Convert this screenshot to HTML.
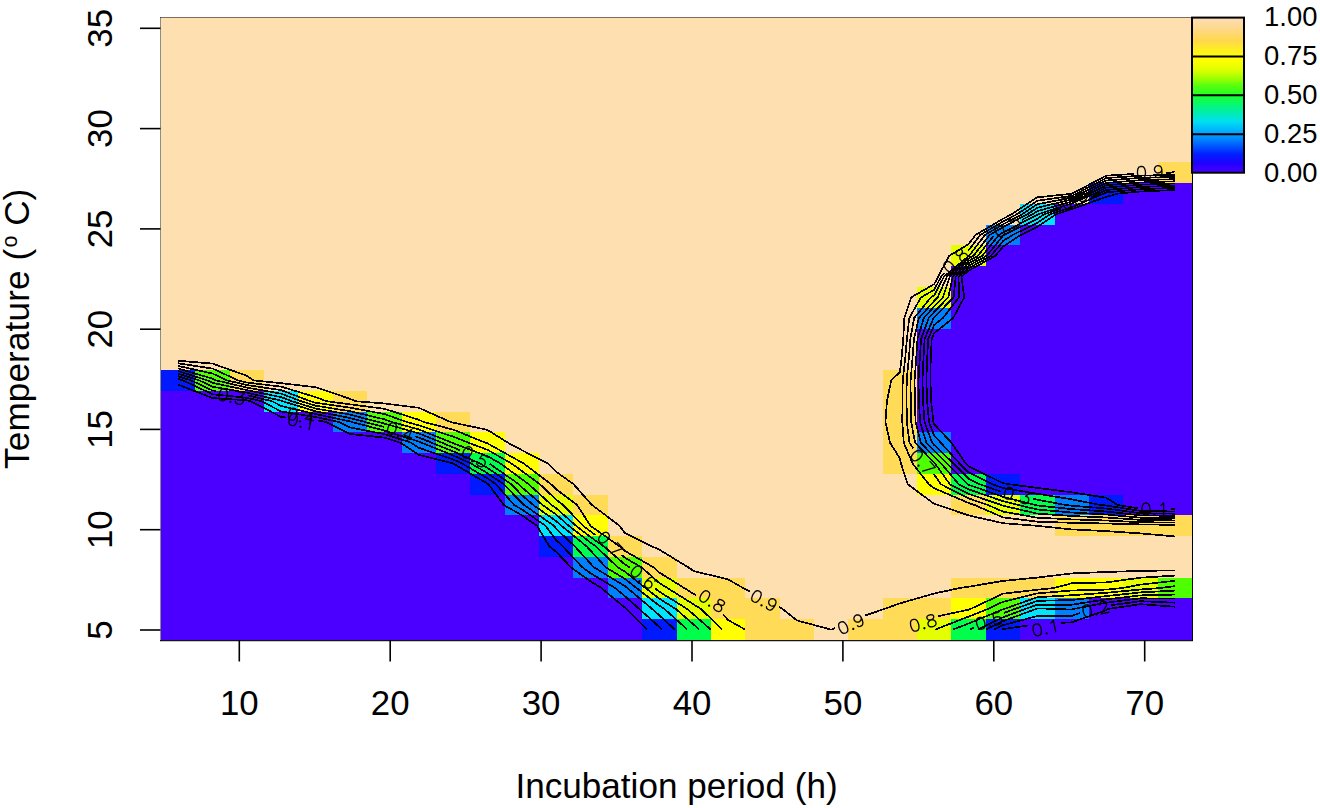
<!DOCTYPE html>
<html><head><meta charset="utf-8"><style>
html,body{margin:0;padding:0;background:#fff;width:1320px;height:808px;overflow:hidden}
svg{display:block}
text{font-family:"Liberation Sans",sans-serif;fill:#000}
</style></head><body>
<svg width="1320" height="808" viewBox="0 0 1320 808">
<defs>
<linearGradient id="lg" x1="0" y1="1" x2="0" y2="0">
<stop offset="0.0" stop-color="#4b00ff"/>
<stop offset="0.06" stop-color="#2000ff"/>
<stop offset="0.12" stop-color="#0020ff"/>
<stop offset="0.21" stop-color="#0080ff"/>
<stop offset="0.27" stop-color="#00b0ff"/>
<stop offset="0.33" stop-color="#00e0f0"/>
<stop offset="0.4" stop-color="#00f0a0"/>
<stop offset="0.48" stop-color="#10ff40"/>
<stop offset="0.515" stop-color="#30ff20"/>
<stop offset="0.555" stop-color="#50ff10"/>
<stop offset="0.61" stop-color="#a0ff00"/>
<stop offset="0.664" stop-color="#e0ff00"/>
<stop offset="0.725" stop-color="#ffff00"/>
<stop offset="0.79" stop-color="#fff020"/>
<stop offset="0.847" stop-color="#ffd84a"/>
<stop offset="0.915" stop-color="#ffd880"/>
<stop offset="0.983" stop-color="#fddbb0"/>
<stop offset="1.0" stop-color="#fddfb1"/>
</linearGradient>
</defs>
<rect x="161" y="17" width="1031" height="623" fill="#fddfb0"/>
<g shape-rendering="crispEdges">
<rect x="161.00" y="619.23" width="481.13" height="20.77" fill="#4b00ff"/>
<rect x="642.13" y="619.23" width="34.37" height="20.77" fill="#0019ff"/>
<rect x="676.50" y="619.23" width="34.37" height="20.77" fill="#00ff4d"/>
<rect x="710.87" y="619.23" width="34.37" height="20.77" fill="#ffff00"/>
<rect x="745.23" y="619.23" width="68.73" height="20.77" fill="#ffdb58"/>
<rect x="848.33" y="619.23" width="68.73" height="20.77" fill="#ffdb58"/>
<rect x="917.07" y="619.23" width="34.37" height="20.77" fill="#e5ff00"/>
<rect x="951.43" y="619.23" width="34.37" height="20.77" fill="#00ff4d"/>
<rect x="985.80" y="619.23" width="34.37" height="20.77" fill="#0019ff"/>
<rect x="1020.17" y="619.23" width="171.83" height="20.77" fill="#4b00ff"/>
<rect x="161.00" y="598.47" width="481.13" height="20.77" fill="#4b00ff"/>
<rect x="642.13" y="598.47" width="34.37" height="20.77" fill="#00e5ff"/>
<rect x="676.50" y="598.47" width="34.37" height="20.77" fill="#e5ff00"/>
<rect x="710.87" y="598.47" width="68.73" height="20.77" fill="#ffdb58"/>
<rect x="882.70" y="598.47" width="68.73" height="20.77" fill="#ffdb58"/>
<rect x="951.43" y="598.47" width="34.37" height="20.77" fill="#ffff00"/>
<rect x="985.80" y="598.47" width="34.37" height="20.77" fill="#4dff00"/>
<rect x="1020.17" y="598.47" width="34.37" height="20.77" fill="#00e5ff"/>
<rect x="1054.53" y="598.47" width="34.37" height="20.77" fill="#0080ff"/>
<rect x="1088.90" y="598.47" width="103.10" height="20.77" fill="#4b00ff"/>
<rect x="161.00" y="577.70" width="446.77" height="20.77" fill="#4b00ff"/>
<rect x="607.77" y="577.70" width="34.37" height="20.77" fill="#0080ff"/>
<rect x="642.13" y="577.70" width="34.37" height="20.77" fill="#e5ff00"/>
<rect x="676.50" y="577.70" width="68.73" height="20.77" fill="#ffdb58"/>
<rect x="951.43" y="577.70" width="103.10" height="20.77" fill="#ffdb58"/>
<rect x="1054.53" y="577.70" width="68.73" height="20.77" fill="#ffff00"/>
<rect x="1123.27" y="577.70" width="34.37" height="20.77" fill="#e5ff00"/>
<rect x="1157.63" y="577.70" width="34.37" height="20.77" fill="#4dff00"/>
<rect x="161.00" y="556.93" width="412.40" height="20.77" fill="#4b00ff"/>
<rect x="573.40" y="556.93" width="34.37" height="20.77" fill="#0080ff"/>
<rect x="607.77" y="556.93" width="34.37" height="20.77" fill="#4dff00"/>
<rect x="642.13" y="556.93" width="34.37" height="20.77" fill="#ffdb58"/>
<rect x="161.00" y="536.17" width="378.03" height="20.77" fill="#4b00ff"/>
<rect x="539.03" y="536.17" width="34.37" height="20.77" fill="#0019ff"/>
<rect x="573.40" y="536.17" width="34.37" height="20.77" fill="#00ff4d"/>
<rect x="607.77" y="536.17" width="34.37" height="20.77" fill="#ffdb58"/>
<rect x="161.00" y="515.40" width="378.03" height="20.77" fill="#4b00ff"/>
<rect x="539.03" y="515.40" width="34.37" height="20.77" fill="#00e5ff"/>
<rect x="573.40" y="515.40" width="34.37" height="20.77" fill="#ffff00"/>
<rect x="1054.53" y="515.40" width="137.47" height="20.77" fill="#ffdb58"/>
<rect x="161.00" y="494.63" width="343.67" height="20.77" fill="#4b00ff"/>
<rect x="504.67" y="494.63" width="34.37" height="20.77" fill="#0080ff"/>
<rect x="539.03" y="494.63" width="34.37" height="20.77" fill="#e5ff00"/>
<rect x="573.40" y="494.63" width="34.37" height="20.77" fill="#ffdb58"/>
<rect x="951.43" y="494.63" width="34.37" height="20.77" fill="#ffdb58"/>
<rect x="985.80" y="494.63" width="34.37" height="20.77" fill="#e5ff00"/>
<rect x="1020.17" y="494.63" width="34.37" height="20.77" fill="#00ff4d"/>
<rect x="1054.53" y="494.63" width="34.37" height="20.77" fill="#0080ff"/>
<rect x="1088.90" y="494.63" width="34.37" height="20.77" fill="#0019ff"/>
<rect x="1123.27" y="494.63" width="68.73" height="20.77" fill="#4b00ff"/>
<rect x="161.00" y="473.87" width="309.30" height="20.77" fill="#4b00ff"/>
<rect x="470.30" y="473.87" width="34.37" height="20.77" fill="#0019ff"/>
<rect x="504.67" y="473.87" width="34.37" height="20.77" fill="#4dff00"/>
<rect x="539.03" y="473.87" width="34.37" height="20.77" fill="#ffdb58"/>
<rect x="917.07" y="473.87" width="34.37" height="20.77" fill="#ffff00"/>
<rect x="951.43" y="473.87" width="34.37" height="20.77" fill="#00ff4d"/>
<rect x="985.80" y="473.87" width="34.37" height="20.77" fill="#0019ff"/>
<rect x="1020.17" y="473.87" width="171.83" height="20.77" fill="#4b00ff"/>
<rect x="161.00" y="453.10" width="274.93" height="20.77" fill="#4b00ff"/>
<rect x="435.93" y="453.10" width="34.37" height="20.77" fill="#0019ff"/>
<rect x="470.30" y="453.10" width="34.37" height="20.77" fill="#00ff4d"/>
<rect x="504.67" y="453.10" width="34.37" height="20.77" fill="#ffff00"/>
<rect x="882.70" y="453.10" width="34.37" height="20.77" fill="#ffdb58"/>
<rect x="917.07" y="453.10" width="34.37" height="20.77" fill="#4dff00"/>
<rect x="951.43" y="453.10" width="240.57" height="20.77" fill="#4b00ff"/>
<rect x="161.00" y="432.33" width="240.57" height="20.77" fill="#4b00ff"/>
<rect x="401.57" y="432.33" width="34.37" height="20.77" fill="#0080ff"/>
<rect x="435.93" y="432.33" width="34.37" height="20.77" fill="#4dff00"/>
<rect x="470.30" y="432.33" width="34.37" height="20.77" fill="#ffff00"/>
<rect x="882.70" y="432.33" width="34.37" height="20.77" fill="#ffdb58"/>
<rect x="917.07" y="432.33" width="34.37" height="20.77" fill="#0080ff"/>
<rect x="951.43" y="432.33" width="240.57" height="20.77" fill="#4b00ff"/>
<rect x="161.00" y="411.57" width="171.83" height="20.77" fill="#4b00ff"/>
<rect x="332.83" y="411.57" width="34.37" height="20.77" fill="#0080ff"/>
<rect x="367.20" y="411.57" width="34.37" height="20.77" fill="#4dff00"/>
<rect x="401.57" y="411.57" width="34.37" height="20.77" fill="#ffff00"/>
<rect x="435.93" y="411.57" width="34.37" height="20.77" fill="#ffdb58"/>
<rect x="882.70" y="411.57" width="34.37" height="20.77" fill="#ffdb58"/>
<rect x="917.07" y="411.57" width="274.93" height="20.77" fill="#4b00ff"/>
<rect x="161.00" y="390.80" width="103.10" height="20.77" fill="#4b00ff"/>
<rect x="264.10" y="390.80" width="34.37" height="20.77" fill="#00e5ff"/>
<rect x="298.47" y="390.80" width="34.37" height="20.77" fill="#ffff00"/>
<rect x="332.83" y="390.80" width="34.37" height="20.77" fill="#ffdb58"/>
<rect x="882.70" y="390.80" width="34.37" height="20.77" fill="#ffdb58"/>
<rect x="917.07" y="390.80" width="274.93" height="20.77" fill="#4b00ff"/>
<rect x="161.00" y="370.03" width="34.37" height="20.77" fill="#0019ff"/>
<rect x="195.37" y="370.03" width="34.37" height="20.77" fill="#4dff00"/>
<rect x="229.73" y="370.03" width="34.37" height="20.77" fill="#ffdb58"/>
<rect x="882.70" y="370.03" width="34.37" height="20.77" fill="#ffdb58"/>
<rect x="917.07" y="370.03" width="274.93" height="20.77" fill="#4b00ff"/>
<rect x="917.07" y="349.27" width="274.93" height="20.77" fill="#4b00ff"/>
<rect x="917.07" y="328.50" width="274.93" height="20.77" fill="#4b00ff"/>
<rect x="917.07" y="307.73" width="34.37" height="20.77" fill="#0080ff"/>
<rect x="951.43" y="307.73" width="240.57" height="20.77" fill="#4b00ff"/>
<rect x="917.07" y="286.97" width="34.37" height="20.77" fill="#e5ff00"/>
<rect x="951.43" y="286.97" width="240.57" height="20.77" fill="#4b00ff"/>
<rect x="951.43" y="266.20" width="240.57" height="20.77" fill="#4b00ff"/>
<rect x="951.43" y="245.43" width="34.37" height="20.77" fill="#e5ff00"/>
<rect x="985.80" y="245.43" width="206.20" height="20.77" fill="#4b00ff"/>
<rect x="985.80" y="224.67" width="34.37" height="20.77" fill="#0080ff"/>
<rect x="1020.17" y="224.67" width="171.83" height="20.77" fill="#4b00ff"/>
<rect x="1020.17" y="203.90" width="34.37" height="20.77" fill="#00e5ff"/>
<rect x="1054.53" y="203.90" width="137.47" height="20.77" fill="#4b00ff"/>
<rect x="1088.90" y="183.13" width="34.37" height="20.77" fill="#0019ff"/>
<rect x="1123.27" y="183.13" width="68.73" height="20.77" fill="#4b00ff"/>
<rect x="1157.63" y="162.37" width="34.37" height="20.77" fill="#ffdb58"/>
</g>
<g fill="none" stroke="#000" stroke-width="1.7" stroke-linejoin="round" shape-rendering="crispEdges">
<path d="M178.2,384.6 L212.6,398.1 L246.9,400.3 L250.6,401.2 L281.3,417.0 L285.8,417.4"/>
<path d="M318.4,420.4 L325.7,422.0 L350.0,434.0 L384.4,437.6 L400.3,442.7 L418.8,454.9 L453.1,463.4 L453.2,463.5 L487.5,483.6 L488.4,484.2 L503.8,505.0 L521.9,515.3 L537.1,525.8 L549.3,546.5 L556.2,551.8 L570.9,567.3 L590.6,581.5 L601.5,588.1 L625.0,607.7 L626.2,608.9 L647.2,629.6"/>
<path d="M1002.0,629.6 L1003.0,629.1 L1028.4,625.4"/>
<path d="M1061.1,622.9 L1071.7,622.3 L1106.1,610.3 L1108.5,608.9 L1140.5,604.2 L1174.8,606.7"/>
<path d="M1174.8,509.2 L1170.8,509.2"/>
<path d="M1138.2,508.3 L1117.7,505.0 L1106.1,497.7 L1071.7,492.3 L1037.3,487.9 L1009.2,484.2 L1003.0,483.2 L968.6,466.3 L965.8,463.5 L951.4,442.7 L934.2,424.2 L933.4,422.0 L931.2,401.2 L930.4,380.4 L930.7,359.7 L931.7,338.9 L934.2,333.1 L953.1,318.1 L964.2,297.4 L961.5,276.6 L968.6,270.7 L995.5,255.8 L1003.0,246.6 L1020.6,235.1 L1037.3,226.9 L1056.0,214.3 L1071.7,209.2 L1106.1,196.9 L1118.5,193.5 L1140.5,191.5 L1174.8,190.0"/>
<path d="M178.2,378.9 L183.0,380.4 L212.6,394.3 L246.9,397.8 L261.3,401.2 L281.3,411.5 L315.6,417.0 L338.9,422.0 L350.0,427.5 L384.4,434.1 L411.0,442.7 L418.8,447.8 L453.1,459.4 L462.1,463.5 L487.5,478.4 L496.0,484.2 L514.1,505.0 L521.9,509.4 L545.5,525.8 L556.2,540.1 L562.9,546.5 L582.3,567.3 L590.6,573.3 L615.2,588.1 L625.0,596.3 L639.2,608.9 L659.3,626.9 L662.2,629.6"/>
<path d="M993.9,629.6 L1003.0,625.2 L1037.3,616.0 L1071.7,616.0 L1079.7,613.0"/>
<path d="M1111.3,605.2 L1140.5,601.2 L1174.8,602.7"/>
<path d="M1174.8,511.5 L1140.5,510.9 L1106.1,505.5 L1100.4,505.0 L1071.7,499.3 L1037.3,493.8 L1003.0,488.0 L992.2,484.2 L968.6,472.5 L959.6,463.5 L940.8,442.7 L934.2,435.6 L929.0,422.0 L927.1,401.2 L926.4,380.4 L927.1,359.7 L928.2,338.9 L934.2,325.0 L942.9,318.1 L958.9,297.4 L958.6,276.6 L968.6,268.3 L991.1,255.8 L1003.0,241.1 L1012.3,235.1 L1037.3,222.8 L1050.0,214.3 L1071.7,207.3 L1103.8,193.5 L1106.1,192.3 L1140.5,189.3 L1174.8,187.8"/>
<path d="M178.2,376.3 L191.1,380.4 L212.6,390.5 L216.1,391.0"/>
<path d="M248.3,395.5 L272.0,401.2 L281.3,406.0 L315.6,414.1 L350.0,421.4 L352.0,422.0 L384.4,430.6 L418.8,441.6 L421.6,442.7 L453.1,455.4 L471.0,463.5 L487.5,473.2 L503.7,484.2 L521.9,503.0 L524.1,505.0 L554.0,525.8 L556.2,528.8 L574.9,546.5 L590.6,563.7 L593.9,567.3 L625.0,586.1 L627.5,588.1 L652.1,608.9 L659.3,615.3 L674.8,629.6"/>
<path d="M985.8,629.6 L1003.0,621.2 L1036.1,608.9 L1037.3,608.4 L1054.5,608.9 L1071.7,609.6 L1073.8,608.9 L1106.1,602.7 L1140.5,598.3 L1174.8,598.6"/>
<path d="M1174.8,513.7 L1140.5,513.2 L1106.1,508.5 L1071.7,505.7 L1065.6,505.0 L1037.3,499.7 L1032.9,498.8"/>
<path d="M1001.2,491.8 L979.6,484.2 L968.6,478.8 L953.5,463.5 L934.2,445.0 L932.1,442.7 L924.5,422.0 L923.0,401.2 L922.5,380.4 L923.4,359.7 L924.6,338.9 L933.5,318.1 L934.2,317.3 L953.6,297.4 L955.7,276.6 L968.6,265.8 L986.7,255.8 L1003.0,235.7 L1004.0,235.1 L1037.3,218.8 L1044.0,214.3 L1060.7,208.9"/>
<path d="M1091.0,197.1 L1099.4,193.5 L1106.1,190.0 L1140.5,187.0 L1174.8,185.7"/>
<path d="M178.2,373.7 L199.2,380.4 L212.6,386.7 L246.9,392.7 L281.3,400.7 L282.5,401.2 L315.6,411.3 L350.0,418.0 L365.0,422.0 L384.3,427.1"/>
<path d="M415.5,436.5 L418.8,437.5 L431.7,442.7 L453.1,451.3 L479.9,463.5 L487.5,467.9 L511.3,484.2 L521.9,495.2 L533.3,505.0 L556.2,521.1 L561.5,525.8 L586.8,546.5 L590.6,550.6 L605.8,567.3 L625.0,578.9 L636.6,588.1 L659.3,605.7 L664.4,608.9 L687.4,629.6"/>
<path d="M977.7,629.6 L1003.0,617.3 L1025.5,608.9 L1037.3,604.7 L1071.7,604.7 L1106.1,599.4 L1140.5,595.4 L1174.8,594.6"/>
<path d="M1174.8,515.9 L1140.5,515.4 L1106.1,511.5 L1071.7,509.1 L1037.3,505.5 L1035.5,505.0 L1003.0,496.8 L968.6,484.8 L967.5,484.2 L947.3,463.5 L934.2,450.9 L926.4,442.7 L920.1,422.0 L918.9,401.2 L918.5,380.4 L919.7,359.7 L921.1,338.9 L928.7,318.1 L934.2,311.9 L948.3,297.4 L952.8,276.6 L968.6,263.4 L982.3,255.8 L998.9,235.1 L1003.0,232.6 L1037.3,214.7 L1038.0,214.3 L1071.7,203.5 L1094.9,193.5 L1106.1,187.6 L1140.5,184.7 L1174.8,183.5"/>
<path d="M178.2,371.1 L207.3,380.4 L212.6,382.9 L246.9,390.1 L281.3,397.2 L291.8,401.2 L315.6,408.5 L350.0,414.6 L378.0,422.0 L384.4,423.6 L418.8,433.4 L441.8,442.7 L453.1,447.3 L459.8,450.2"/>
<path d="M489.5,463.7 L518.9,484.2 L521.9,487.3 L542.5,505.0 L556.2,514.6 L568.8,525.8 L590.6,542.7 L596.0,546.5 L617.7,567.3 L625.0,571.7 L645.6,588.1 L659.3,598.7 L675.7,608.9 L693.7,624.6 L699.4,629.6"/>
<path d="M969.6,629.6 L973.9,627.5"/>
<path d="M1003.7,613.0 L1014.9,608.9 L1037.3,600.9 L1071.7,600.0 L1106.1,596.1 L1140.5,592.4 L1174.8,590.6"/>
<path d="M1174.8,518.2 L1140.5,517.7 L1106.1,514.5 L1071.7,512.5 L1037.3,509.5 L1018.2,505.0 L1003.0,501.2 L968.6,489.3 L958.7,484.2 L941.2,463.5 L934.2,456.8 L920.8,442.7 L915.6,422.0 L914.8,401.2 L914.6,380.4 L916.1,359.7 L917.5,338.9 L923.8,318.1 L934.2,306.4 L943.0,297.4 L949.8,276.6 L968.6,261.0 L977.9,255.8 L993.6,235.8"/>
<path d="M1021.9,219.9 L1032.6,214.3 L1037.3,211.2 L1071.7,201.5 L1090.4,193.5 L1106.1,185.2 L1140.5,182.5 L1174.8,181.3"/>
<path d="M178.2,368.5 L212.6,378.7 L216.3,380.4 L246.9,387.6 L281.3,393.7 L301.0,401.2 L315.6,405.7 L350.0,411.2 L384.4,419.3 L391.9,422.0 L418.8,429.4 L451.9,442.7 L453.1,443.2 L487.5,456.2 L500.4,463.5 L521.9,479.2 L528.7,484.2 L551.6,505.0 L556.2,508.2 L576.0,525.8 L590.6,537.1 L603.9,546.5 L625.0,564.6 L629.6,567.3 L629.8,567.4"/>
<path d="M654.8,588.2 L659.3,591.7 L687.1,608.9 L693.7,614.6 L710.9,629.6"/>
<path d="M952.9,629.6 L968.6,623.5 L1003.0,609.3 L1004.3,608.9 L1037.3,597.2 L1071.7,595.2 L1106.1,592.8 L1140.5,589.5 L1159.6,588.1 L1174.8,586.1"/>
<path d="M1174.8,520.4 L1140.5,519.9 L1106.1,517.5 L1071.7,516.0 L1037.3,513.6 L1003.0,505.7 L1001.4,505.0 L968.6,493.9 L949.8,484.2 L935.0,463.5 L934.2,462.8 L915.1,442.7 L911.2,422.0 L910.7,401.2 L910.6,380.4 L912.4,359.7 L914.0,338.9 L918.9,318.1 L934.2,300.9 L937.7,297.4 L946.9,276.6 L968.6,258.5 L973.5,255.8 L989.5,235.1 L1003.0,227.1 L1027.3,214.3 L1037.3,207.7 L1071.7,199.6 L1085.9,193.5 L1106.1,182.9 L1140.5,180.2 L1174.8,179.2"/>
<path d="M178.2,365.9 L212.6,373.6 L227.2,380.4 L246.9,385.0 L281.3,390.2 L310.3,401.2 L315.6,402.8 L350.0,407.7 L384.4,414.0 L406.7,422.0 L418.8,425.3 L453.1,436.6 L468.3,442.7 L487.5,449.8 L511.5,463.5 L521.9,471.0 L539.9,484.2 L556.2,499.7 L563.2,505.0 L583.2,525.8 L590.6,531.5 L595.7,535.1"/>
<path d="M621.7,555.0 L625.0,557.8 L641.6,567.3 L659.3,583.0 L667.5,588.1 L693.7,604.4 L700.9,608.9 L722.3,629.6"/>
<path d="M935.1,629.6 L968.6,616.6 L987.9,608.9 L1003.0,601.8 L1037.3,593.4 L1071.7,590.5 L1106.1,589.6 L1122.1,588.1 L1140.5,584.6 L1174.8,580.8"/>
<path d="M1174.8,522.6 L1140.5,522.2 L1106.1,520.5 L1071.7,519.4 L1037.3,517.7 L1003.0,511.6 L988.0,505.0 L968.6,498.4 L940.9,484.2 L934.2,474.7 L933.5,473.9"/>
<path d="M913.4,448.3 L909.5,442.7 L906.8,422.0 L906.6,401.2 L906.7,380.4 L908.7,359.7 L910.4,338.9 L914.1,318.1 L930.9,297.4 L934.2,295.4 L944.0,276.6 L968.6,256.1 L969.1,255.8 L984.8,235.1 L1003.0,224.3 L1022.1,214.3 L1037.3,204.2 L1071.7,197.7 L1081.4,193.5 L1106.1,180.5 L1140.5,177.9 L1174.8,177.0"/>
<path d="M178.2,363.3 L212.6,368.6 L238.1,380.4 L246.9,382.5 L281.3,386.7 L315.6,397.1 L326.4,401.2 L350.0,404.3 L384.4,408.8 L418.8,419.8 L423.7,422.0 L453.1,429.6 L485.6,442.7 L487.5,443.4 L521.9,462.5 L523.7,463.5 L551.0,484.2 L556.2,489.2 L577.1,505.0 L590.5,525.8 L590.6,525.9 L619.8,546.5 L625.0,551.0 L653.5,567.3 L659.3,572.5 L684.3,588.1 L693.7,593.9 L696.3,595.5"/>
<path d="M722.9,614.2 L728.0,620.0 L745.3,629.6"/>
<path d="M938.0,616.2 L968.6,609.7 L970.7,608.9 L1003.0,593.7 L1037.3,589.7 L1053.5,588.1 L1071.7,583.3 L1106.1,582.4 L1140.5,577.7 L1174.8,575.6"/>
<path d="M1174.8,524.9 L1140.5,524.4 L1106.1,523.5 L1071.7,522.8 L1037.3,521.7 L1003.0,517.4 L974.6,505.0 L968.6,503.0 L934.2,488.3 L928.8,484.2 L912.6,463.5 L903.8,442.7 L902.3,422.0 L902.5,401.2 L902.7,380.4 L905.1,359.7 L906.9,338.9 L909.2,318.1 L921.0,297.4 L934.2,289.8 L941.1,276.6 L944.4,272.9"/>
<path d="M968.1,250.7 L968.6,250.3 L980.1,235.1 L1003.0,221.5 L1016.8,214.3 L1037.3,200.8 L1071.7,195.8 L1076.9,193.5 L1106.1,178.1 L1140.5,175.7 L1174.8,174.8"/>
<path d="M178.2,360.7 L212.6,363.6 L246.9,375.8 L253.6,380.4 L281.3,383.2 L315.6,387.2 L350.0,398.8 L355.4,401.2 L384.4,403.5 L418.8,407.8 L450.5,422.0 L453.1,422.6 L487.5,429.9 L507.9,442.7 L521.9,450.2 L547.7,463.5 L556.2,471.8 L573.6,484.2 L590.6,503.6 L592.1,505.0 L619.5,525.8 L625.0,533.1 L652.3,546.5 L659.3,549.6 L688.2,567.3 L693.7,571.0 L728.0,579.4 L743.3,588.1 L750.3,591.6"/>
<path d="M779.0,606.9 L782.6,608.9 L796.8,620.4 L831.1,629.6"/>
<path d="M831.2,629.6 L835.0,628.0"/>
<path d="M865.0,615.6 L865.5,615.4 L884.4,608.9 L899.9,603.4 L934.2,593.5 L959.4,588.1 L968.6,586.7 L1003.0,580.9 L1037.3,577.6 L1071.7,573.4 L1106.1,572.0 L1140.5,570.9 L1174.8,570.4"/>
<path d="M1174.8,536.4 L1140.5,533.4 L1106.1,531.1 L1071.7,529.4 L1037.3,525.9 L1037.0,525.8 L1003.0,523.2 L968.6,515.4 L938.2,505.0 L934.2,503.9 L907.7,484.2 L901.0,463.5 L899.9,458.5 L890.0,442.7 L885.5,422.0 L886.9,401.2 L891.3,380.4 L899.9,372.0 L901.4,359.7 L903.3,338.9 L904.3,318.1 L911.2,297.4 L934.2,284.1 L938.2,276.6 L949.2,255.8 L968.6,244.1 L975.4,235.1 L1003.0,218.8 L1011.5,214.3 L1037.3,197.3 L1071.7,193.8 L1072.4,193.5 L1106.1,175.7 L1133.8,173.9"/>
<path d="M1166.3,172.8 L1170.4,172.8 L1174.8,171.4"/>
</g>
<g fill="none" stroke="#000" stroke-width="1.3" stroke-linejoin="round" stroke-linecap="round">
<path transform="translate(231.5,396.6) rotate(12) scale(0.57,-0.57) translate(-25.0,-10.5)" d="M9,21 L6,20 L4,17 L3,12 L3,9 L4,4 L6,1 L9,0 L11,0 L14,1 L16,4 L17,9 L17,12 L16,17 L14,20 L11,21 L9,21 M25,2 L24,1 L25,0 L26,1 L25,2 M35,21 L46,21 L40,13 L43,13 L45,12 L46,11 L47,8 L47,6 L46,3 L44,1 L41,0 L38,0 L35,1 L34,2 L33,4" vector-effect="non-scaling-stroke"/>
<path transform="translate(301.0,416.0) rotate(12) scale(0.57,-0.57) translate(-25.0,-10.5)" d="M9,21 L6,20 L4,17 L3,12 L3,9 L4,4 L6,1 L9,0 L11,0 L14,1 L16,4 L17,9 L17,12 L16,17 L14,20 L11,21 L9,21 M25,2 L24,1 L25,0 L26,1 L25,2 M43,21 L33,7 L48,7 M43,21 L43,0" vector-effect="non-scaling-stroke"/>
<path transform="translate(301.5,421.5) rotate(12) scale(0.57,-0.57) translate(-25.0,-10.5)" d="M9,21 L6,20 L4,17 L3,12 L3,9 L4,4 L6,1 L9,0 L11,0 L14,1 L16,4 L17,9 L17,12 L16,17 L14,20 L11,21 L9,21 M25,2 L24,1 L25,0 L26,1 L25,2 M36,17 L38,18 L41,21 L41,0" vector-effect="non-scaling-stroke"/>
<path transform="translate(400.0,431.5) rotate(20) scale(0.57,-0.57) translate(-25.0,-10.5)" d="M9,21 L6,20 L4,17 L3,12 L3,9 L4,4 L6,1 L9,0 L11,0 L14,1 L16,4 L17,9 L17,12 L16,17 L14,20 L11,21 L9,21 M25,2 L24,1 L25,0 L26,1 L25,2 M43,21 L33,7 L48,7 M43,21 L43,0" vector-effect="non-scaling-stroke"/>
<path transform="translate(474.8,456.7) rotate(30) scale(0.57,-0.57) translate(-25.0,-10.5)" d="M9,21 L6,20 L4,17 L3,12 L3,9 L4,4 L6,1 L9,0 L11,0 L14,1 L16,4 L17,9 L17,12 L16,17 L14,20 L11,21 L9,21 M25,2 L24,1 L25,0 L26,1 L25,2 M45,21 L35,21 L34,12 L35,13 L38,14 L41,14 L44,13 L46,11 L47,8 L47,6 L46,3 L44,1 L41,0 L38,0 L35,1 L34,2 L33,4" vector-effect="non-scaling-stroke"/>
<path transform="translate(610.0,543.7) rotate(45) scale(0.57,-0.57) translate(-25.0,-10.5)" d="M9,21 L6,20 L4,17 L3,12 L3,9 L4,4 L6,1 L9,0 L11,0 L14,1 L16,4 L17,9 L17,12 L16,17 L14,20 L11,21 L9,21 M25,2 L24,1 L25,0 L26,1 L25,2 M47,21 L37,0 M33,21 L47,21" vector-effect="non-scaling-stroke"/>
<path transform="translate(643.0,577.0) rotate(40) scale(0.57,-0.57) translate(-25.0,-10.5)" d="M9,21 L6,20 L4,17 L3,12 L3,9 L4,4 L6,1 L9,0 L11,0 L14,1 L16,4 L17,9 L17,12 L16,17 L14,20 L11,21 L9,21 M25,2 L24,1 L25,0 L26,1 L25,2 M46,18 L45,20 L42,21 L40,21 L37,20 L35,17 L34,12 L34,7 L35,3 L37,1 L40,0 L41,0 L44,1 L46,3 L47,6 L47,7 L46,10 L44,12 L41,13 L40,13 L37,12 L35,10 L34,7" vector-effect="non-scaling-stroke"/>
<path transform="translate(712.0,601.0) rotate(32) scale(0.57,-0.57) translate(-25.0,-10.5)" d="M9,21 L6,20 L4,17 L3,12 L3,9 L4,4 L6,1 L9,0 L11,0 L14,1 L16,4 L17,9 L17,12 L16,17 L14,20 L11,21 L9,21 M25,2 L24,1 L25,0 L26,1 L25,2 M38,21 L35,20 L34,18 L34,16 L35,14 L37,13 L41,12 L44,11 L46,9 L47,7 L47,4 L46,2 L45,1 L42,0 L38,0 L35,1 L34,2 L33,4 L33,7 L34,9 L36,11 L39,12 L43,13 L45,14 L46,16 L46,18 L45,20 L42,21 L38,21" vector-effect="non-scaling-stroke"/>
<path transform="translate(764.0,600.5) rotate(28) scale(0.57,-0.57) translate(-25.0,-10.5)" d="M9,21 L6,20 L4,17 L3,12 L3,9 L4,4 L6,1 L9,0 L11,0 L14,1 L16,4 L17,9 L17,12 L16,17 L14,20 L11,21 L9,21 M25,2 L24,1 L25,0 L26,1 L25,2 M46,14 L45,11 L43,9 L40,8 L39,8 L36,9 L34,11 L33,14 L33,15 L34,18 L36,20 L39,21 L40,21 L43,20 L45,18 L46,14 L46,9 L45,4 L43,1 L40,0 L38,0 L35,1 L34,3" vector-effect="non-scaling-stroke"/>
<path transform="translate(851.0,624.0) rotate(-24.5) scale(0.57,-0.57) translate(-25.0,-10.5)" d="M9,21 L6,20 L4,17 L3,12 L3,9 L4,4 L6,1 L9,0 L11,0 L14,1 L16,4 L17,9 L17,12 L16,17 L14,20 L11,21 L9,21 M25,2 L24,1 L25,0 L26,1 L25,2 M46,14 L45,11 L43,9 L40,8 L39,8 L36,9 L34,11 L33,14 L33,15 L34,18 L36,20 L39,21 L40,21 L43,20 L45,18 L46,14 L46,9 L45,4 L43,1 L40,0 L38,0 L35,1 L34,3" vector-effect="non-scaling-stroke"/>
<path transform="translate(923.0,623.0) rotate(-15) scale(0.57,-0.57) translate(-25.0,-10.5)" d="M9,21 L6,20 L4,17 L3,12 L3,9 L4,4 L6,1 L9,0 L11,0 L14,1 L16,4 L17,9 L17,12 L16,17 L14,20 L11,21 L9,21 M25,2 L24,1 L25,0 L26,1 L25,2 M38,21 L35,20 L34,18 L34,16 L35,14 L37,13 L41,12 L44,11 L46,9 L47,7 L47,4 L46,2 L45,1 L42,0 L38,0 L35,1 L34,2 L33,4 L33,7 L34,9 L36,11 L39,12 L43,13 L45,14 L46,16 L46,18 L45,20 L42,21 L38,21" vector-effect="non-scaling-stroke"/>
<path transform="translate(989.0,621.0) rotate(-15) scale(0.57,-0.57) translate(-25.0,-10.5)" d="M9,21 L6,20 L4,17 L3,12 L3,9 L4,4 L6,1 L9,0 L11,0 L14,1 L16,4 L17,9 L17,12 L16,17 L14,20 L11,21 L9,21 M25,2 L24,1 L25,0 L26,1 L25,2 M45,21 L35,21 L34,12 L35,13 L38,14 L41,14 L44,13 L46,11 L47,8 L47,6 L46,3 L44,1 L41,0 L38,0 L35,1 L34,2 L33,4" vector-effect="non-scaling-stroke"/>
<path transform="translate(1045.6,628.0) rotate(-12) scale(0.57,-0.57) translate(-25.0,-10.5)" d="M9,21 L6,20 L4,17 L3,12 L3,9 L4,4 L6,1 L9,0 L11,0 L14,1 L16,4 L17,9 L17,12 L16,17 L14,20 L11,21 L9,21 M25,2 L24,1 L25,0 L26,1 L25,2 M36,17 L38,18 L41,21 L41,0" vector-effect="non-scaling-stroke"/>
<path transform="translate(1095.5,609.0) rotate(-12) scale(0.57,-0.57) translate(-25.0,-10.5)" d="M9,21 L6,20 L4,17 L3,12 L3,9 L4,4 L6,1 L9,0 L11,0 L14,1 L16,4 L17,9 L17,12 L16,17 L14,20 L11,21 L9,21 M25,2 L24,1 L25,0 L26,1 L25,2 M34,16 L34,17 L35,19 L36,20 L38,21 L42,21 L44,20 L45,19 L46,17 L46,15 L45,13 L43,10 L33,0 L47,0" vector-effect="non-scaling-stroke"/>
<path transform="translate(1150.0,172.0) rotate(-3) scale(0.57,-0.57) translate(-25.0,-10.5)" d="M9,21 L6,20 L4,17 L3,12 L3,9 L4,4 L6,1 L9,0 L11,0 L14,1 L16,4 L17,9 L17,12 L16,17 L14,20 L11,21 L9,21 M25,2 L24,1 L25,0 L26,1 L25,2 M46,14 L45,11 L43,9 L40,8 L39,8 L36,9 L34,11 L33,14 L33,15 L34,18 L36,20 L39,21 L40,21 L43,20 L45,18 L46,14 L46,9 L45,4 L43,1 L40,0 L38,0 L35,1 L34,3" vector-effect="non-scaling-stroke"/>
<path transform="translate(955.5,261.0) rotate(-43) scale(0.57,-0.57) translate(-25.0,-10.5)" d="M9,21 L6,20 L4,17 L3,12 L3,9 L4,4 L6,1 L9,0 L11,0 L14,1 L16,4 L17,9 L17,12 L16,17 L14,20 L11,21 L9,21 M25,2 L24,1 L25,0 L26,1 L25,2 M38,21 L35,20 L34,18 L34,16 L35,14 L37,13 L41,12 L44,11 L46,9 L47,7 L47,4 L46,2 L45,1 L42,0 L38,0 L35,1 L34,2 L33,4 L33,7 L34,9 L36,11 L39,12 L43,13 L45,14 L46,16 L46,18 L45,20 L42,21 L38,21" vector-effect="non-scaling-stroke"/>
<path transform="translate(1007.0,226.5) rotate(-30) scale(0.57,-0.57) translate(-25.0,-10.5)" d="M9,21 L6,20 L4,17 L3,12 L3,9 L4,4 L6,1 L9,0 L11,0 L14,1 L16,4 L17,9 L17,12 L16,17 L14,20 L11,21 L9,21 M25,2 L24,1 L25,0 L26,1 L25,2 M45,21 L35,21 L34,12 L35,13 L38,14 L41,14 L44,13 L46,11 L47,8 L47,6 L46,3 L44,1 L41,0 L38,0 L35,1 L34,2 L33,4" vector-effect="non-scaling-stroke"/>
<path transform="translate(1074.0,199.0) rotate(-25) scale(0.57,-0.57) translate(-25.0,-10.5)" d="M9,21 L6,20 L4,17 L3,12 L3,9 L4,4 L6,1 L9,0 L11,0 L14,1 L16,4 L17,9 L17,12 L16,17 L14,20 L11,21 L9,21 M25,2 L24,1 L25,0 L26,1 L25,2 M35,21 L46,21 L40,13 L43,13 L45,12 L46,11 L47,8 L47,6 L46,3 L44,1 L41,0 L38,0 L35,1 L34,2 L33,4" vector-effect="non-scaling-stroke"/>
<path transform="translate(922.5,462.0) rotate(48) scale(0.57,-0.57) translate(-25.0,-10.5)" d="M9,21 L6,20 L4,17 L3,12 L3,9 L4,4 L6,1 L9,0 L11,0 L14,1 L16,4 L17,9 L17,12 L16,17 L14,20 L11,21 L9,21 M25,2 L24,1 L25,0 L26,1 L25,2 M47,21 L37,0 M33,21 L47,21" vector-effect="non-scaling-stroke"/>
<path transform="translate(1017.0,495.5) rotate(15) scale(0.57,-0.57) translate(-25.0,-10.5)" d="M9,21 L6,20 L4,17 L3,12 L3,9 L4,4 L6,1 L9,0 L11,0 L14,1 L16,4 L17,9 L17,12 L16,17 L14,20 L11,21 L9,21 M25,2 L24,1 L25,0 L26,1 L25,2 M35,21 L46,21 L40,13 L43,13 L45,12 L46,11 L47,8 L47,6 L46,3 L44,1 L41,0 L38,0 L35,1 L34,2 L33,4" vector-effect="non-scaling-stroke"/>
<path transform="translate(1154.5,509.0) rotate(0) scale(0.57,-0.57) translate(-25.0,-10.5)" d="M9,21 L6,20 L4,17 L3,12 L3,9 L4,4 L6,1 L9,0 L11,0 L14,1 L16,4 L17,9 L17,12 L16,17 L14,20 L11,21 L9,21 M25,2 L24,1 L25,0 L26,1 L25,2 M36,17 L38,18 L41,21 L41,0" vector-effect="non-scaling-stroke"/>
</g>
<g shape-rendering="crispEdges">
<rect x="160" y="17" width="1" height="624" fill="#000" fill-opacity="0.45"/>
<rect x="160" y="17" width="1033" height="1" fill="#000" fill-opacity="0.5"/>
<rect x="1192" y="17" width="1" height="624" fill="#000"/>
<rect x="160" y="640" width="1033" height="1" fill="#000" fill-opacity="0.92"/>
<rect x="160" y="641" width="1033" height="1" fill="#000" fill-opacity="0.22"/>
</g>
<!-- legend -->
<rect x="1192" y="17.6" width="52" height="155.1" fill="url(#lg)"/>
<g stroke="#000" stroke-width="2" fill="none">
<rect x="1192" y="17.6" width="52" height="155.1"/>
<line x1="1192" y1="56.4" x2="1244" y2="56.4"/>
<line x1="1192" y1="95.2" x2="1244" y2="95.2"/>
<line x1="1192" y1="134.2" x2="1244" y2="134.2"/>
</g>
<g font-size="27.4">
<text x="1264.1" y="26.4">1.00</text>
<text x="1264.1" y="64.8">0.75</text>
<text x="1264.1" y="103.8">0.50</text>
<text x="1264.1" y="143.0">0.25</text>
<text x="1264.1" y="181.5">0.00</text>
</g>
<!-- axes ticks -->
<g stroke="#000" stroke-width="1.6">
<line x1="239.3" y1="640.5" x2="239.3" y2="661.5"/>
<line x1="390.2" y1="640.5" x2="390.2" y2="661.5"/>
<line x1="541.1" y1="640.5" x2="541.1" y2="661.5"/>
<line x1="692.0" y1="640.5" x2="692.0" y2="661.5"/>
<line x1="842.9" y1="640.5" x2="842.9" y2="661.5"/>
<line x1="993.8" y1="640.5" x2="993.8" y2="661.5"/>
<line x1="1144.7" y1="640.5" x2="1144.7" y2="661.5"/>
<line x1="140" y1="28.3" x2="160.5" y2="28.3"/>
<line x1="140" y1="128.6" x2="160.5" y2="128.6"/>
<line x1="140" y1="228.9" x2="160.5" y2="228.9"/>
<line x1="140" y1="329.2" x2="160.5" y2="329.2"/>
<line x1="140" y1="429.4" x2="160.5" y2="429.4"/>
<line x1="140" y1="529.7" x2="160.5" y2="529.7"/>
<line x1="140" y1="630.0" x2="160.5" y2="630.0"/>
</g>
<g font-size="34.8" text-anchor="middle">
<text x="239.3" y="715.1">10</text>
<text x="390.2" y="715.1">20</text>
<text x="541.1" y="715.1">30</text>
<text x="692.0" y="715.1">40</text>
<text x="842.9" y="715.1">50</text>
<text x="993.8" y="715.1">60</text>
<text x="1144.7" y="715.1">70</text>
<text transform="translate(112.1,28.3) rotate(-90)">35</text>
<text transform="translate(112.1,128.6) rotate(-90)">30</text>
<text transform="translate(112.1,228.9) rotate(-90)">25</text>
<text transform="translate(112.1,329.2) rotate(-90)">20</text>
<text transform="translate(112.1,429.4) rotate(-90)">15</text>
<text transform="translate(112.1,529.7) rotate(-90)">10</text>
<text transform="translate(112.1,630.0) rotate(-90)">5</text>
</g>
<g font-size="35.1">
<text x="515.4" y="797.7" textLength="322.2" lengthAdjust="spacing">Incubation period (h)</text>
<text transform="translate(29.2,468.9) rotate(-90)" textLength="220.1" lengthAdjust="spacing">Temperature (</text>
<text transform="translate(16.9,247.6) rotate(-90)" font-size="21.5">o</text>
<text transform="translate(29.2,225.8) rotate(-90)">C)</text>
</g>
</svg>
</body></html>
